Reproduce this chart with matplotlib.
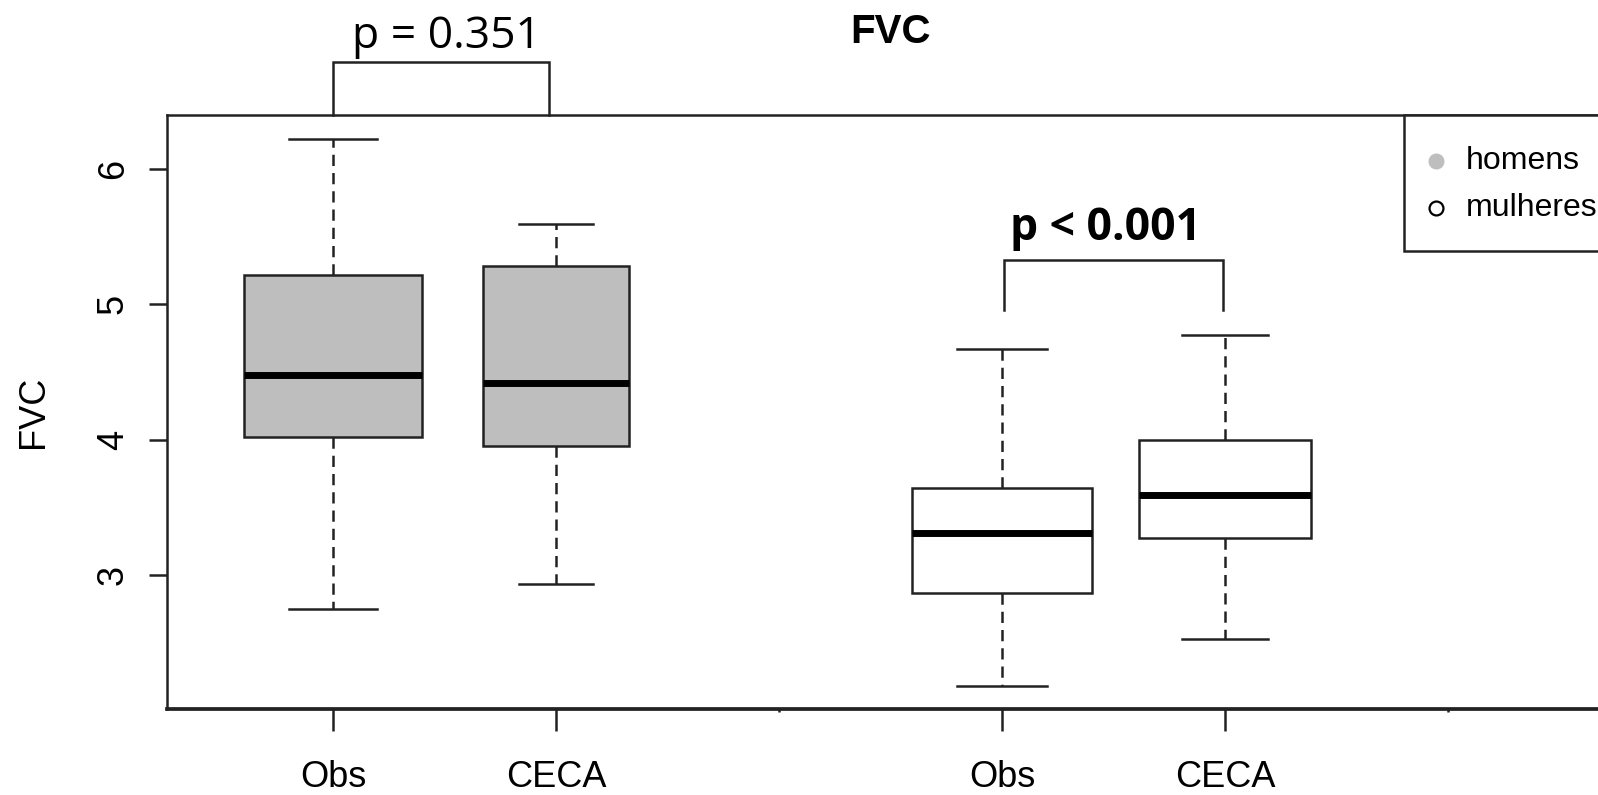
import matplotlib
matplotlib.use('Agg')
import matplotlib.pyplot as plt
from matplotlib.patches import Rectangle

# ---------------- data ----------------
title = 'FVC'
ylabel = 'FVC'
tick_labels = ['Obs', 'CECA', 'Obs', 'CECA']
legend_labels = ['homens', 'mulheres']
whisker_low = [2.75, 2.93, 2.18, 2.53]
q1 = [4.02, 3.95, 2.87, 3.27]
median = [4.48, 4.42, 3.31, 3.59]
q3 = [5.22, 5.28, 3.64, 4.00]
whisker_high = [6.22, 5.59, 4.67, 4.77]
p_labels = ['p = 0.351', 'p < 0.001']
y_ticks = [3, 4, 5, 6]

# ---------------- layout / style ----------------
positions = [1, 2, 4, 5]
box_widths = [0.795, 0.656, 0.804, 0.772]
fills = ['#BEBEBE', '#BEBEBE', 'white', 'white']
LINE = '#222222'
LW = 1.8

W, H = 1598, 795
fig = plt.figure(figsize=(W / 100, H / 100), dpi=100)
ax = fig.add_axes([167 / W, 1 - 709 / H, 1447 / W, 594 / H])
x0, x1 = 0.256, 6.744
y0, y1 = 2.010, 6.399
ax.set_xlim(x0, x1)
ax.set_ylim(y0, y1)

stats = []
for i in range(len(positions)):
    stats.append(dict(med=median[i], q1=q1[i], q3=q3[i],
                      whislo=whisker_low[i], whishi=whisker_high[i], fliers=[]))

bp = ax.bxp(stats, positions=positions, widths=box_widths,
            capwidths=[w / 2 for w in box_widths],
            patch_artist=True, showfliers=False,
            boxprops=dict(linewidth=LW, edgecolor=LINE),
            medianprops=dict(color='black', linewidth=5.0, solid_capstyle='butt'),
            whiskerprops=dict(color=LINE, linewidth=LW, linestyle=(0, (4.5, 2.8))),
            capprops=dict(color=LINE, linewidth=LW))
for patch, fc in zip(bp['boxes'], fills):
    patch.set_facecolor(fc)

for sp in ax.spines.values():
    sp.set_color(LINE)
    sp.set_linewidth(LW)
ax.spines['bottom'].set_linewidth(LW * 1.5)

rfont = ['Liberation Sans', 'DejaVu Sans']
ax.set_xticks(positions)
ax.set_xticklabels(tick_labels, fontsize=26, family=rfont)
ax.set_xticks([3, 6], minor=True)
ax.tick_params(axis='x', which='major', length=15.8, width=LW, color=LINE, pad=21)
ax.tick_params(axis='x', which='minor', length=2, width=LW, color=LINE)
ax.set_yticks(y_ticks)
ax.set_yticklabels([str(t) for t in y_ticks], fontsize=26, family=rfont)
ax.tick_params(axis='y', length=13, width=LW, color=LINE, pad=13, labelrotation=90)
for lab in ax.get_yticklabels():
    lab.set_verticalalignment('center')

fig.text(34 / W, 1 - 412 / H, ylabel, rotation=90, ha='center', va='center',
         fontsize=26, family=rfont)
ax.set_title(title, fontsize=29, fontweight='bold', family=rfont, pad=52)

# legend (R style, top right)
leg_left, leg_bottom = 5.803, 5.394
ax.add_patch(Rectangle((leg_left, leg_bottom), x1 - leg_left, y1 - leg_bottom,
                       facecolor='white', edgecolor=LINE, linewidth=LW,
                       clip_on=False, zorder=5))
ax.plot([5.946], [6.059], 'o', ms=10.5, mfc='#BEBEBE', mec='#BEBEBE',
        clip_on=False, zorder=6)
ax.plot([5.946], [5.712], 'o', ms=10, mfc='white', mec='black', mew=1.6,
        clip_on=False, zorder=6)
ax.text(6.081, 6.059, legend_labels[0], ha='left', va='center', fontsize=23,
        family=rfont, zorder=6, clip_on=False)
ax.text(6.081, 5.712, legend_labels[1], ha='left', va='center', fontsize=23,
        family=rfont, zorder=6, clip_on=False)

# significance brackets
pfont = ['Open Sans', 'DejaVu Sans']
ax.plot([1.0, 1.0, 1.97, 1.97], [y1, 6.79, 6.79, y1], color=LINE, lw=LW,
        clip_on=False, solid_joinstyle='miter')
ax.text(1.511, 6.894, p_labels[0], ha='center', va='baseline', fontsize=32,
        family=pfont, clip_on=False)
ax.plot([4.01, 4.01, 4.99, 4.99], [4.958, 5.328, 5.328, 4.958], color=LINE, lw=LW,
        solid_joinstyle='miter')
ax.text(4.462, 5.475, p_labels[1], ha='center', va='baseline', fontsize=32,
        fontweight='bold', family=pfont)

fig.savefig('out.png', dpi=100, facecolor='white')
